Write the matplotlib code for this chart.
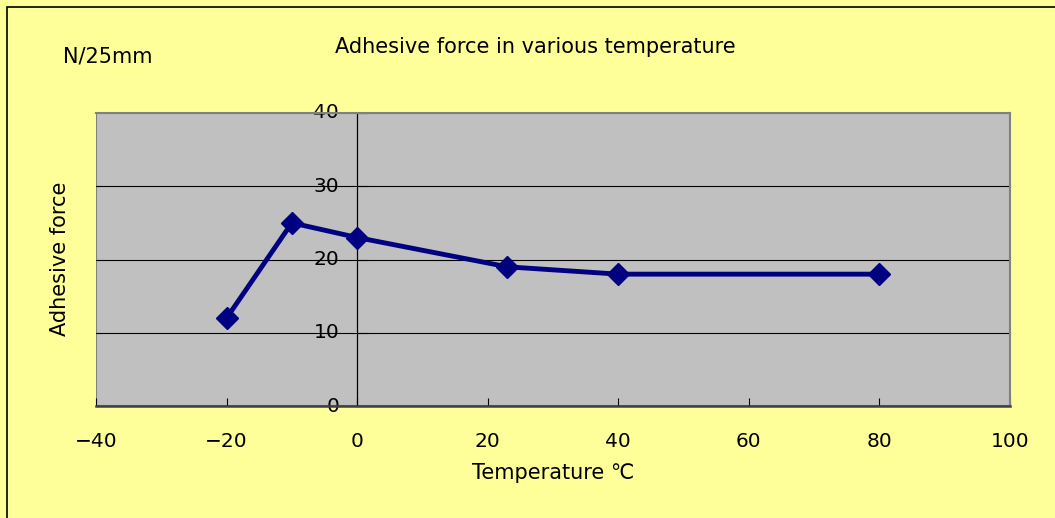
import matplotlib.pyplot as plt
from matplotlib.patches import Rectangle

plt.rcParams['font.family'] = ['DejaVu Sans', 'Noto Sans CJK JP']

temps = [-20, -10, 0, 23, 40, 80]
force = [12, 25, 23, 19, 18, 18]
x_ticks = [-40, -20, 0, 20, 40, 60, 80, 100]
y_ticks = [0, 10, 20, 30, 40]

fig = plt.figure(figsize=(10.55, 5.18), dpi=100, facecolor='#FFFF99')
ax = fig.add_axes([96/1055, 1 - 406/518, 914/1055, 293/518])
ax.set_facecolor('#C0C0C0')

# outer frame of the chart
fig.patches.append(Rectangle((7/1055, -0.05), 1.1, 1 - 7/518 + 0.05,
                             transform=fig.transFigure, fill=False,
                             edgecolor='black', linewidth=1.2))

for y in y_ticks[1:-1]:
    ax.axhline(y, color='black', linewidth=0.8, zorder=1)

ax.plot(temps, force, color='#000080', linewidth=3.5, marker='D',
        markersize=11, zorder=3)

ax.set_xlim(-40, 100)
ax.set_ylim(0, 40)
ax.set_xticks(x_ticks)
ax.set_yticks(y_ticks)
ax.set_xticklabels(['\u221240', '\u221220', '0', '20', '40', '60', '80', '100'])

ax.spines['left'].set_position(('data', 0))
ax.spines['left'].set_linewidth(0.9)
ax.spines['bottom'].set_color('#404040')
ax.spines['bottom'].set_linewidth(1.8)
ax.spines['top'].set_color('#808080')
ax.spines['top'].set_linewidth(1.5)
ax.spines['right'].set_color('#808080')
ax.spines['right'].set_linewidth(1.5)
ax.add_patch(Rectangle((0, 0), 1, 1, transform=ax.transAxes, fill=False,
                       edgecolor='#808080', linewidth=1.5, zorder=0.5))

ax.tick_params(axis='x', direction='in', length=6, pad=19, labelsize=14.5)
ax.tick_params(axis='y', direction='in', length=8, pad=13, labelsize=14.5)
for lbl in ax.get_yticklabels():
    lbl.set_verticalalignment('center')

fig.text(535/1055, 1 - 47/518, 'Adhesive force in various temperature',
         ha='center', va='center', fontsize=15)
fig.text(63/1055, 1 - 56/518, 'N/25mm', ha='left', va='center', fontsize=15)
fig.text(60/1055, 1 - 259/518, 'Adhesive force', rotation=90,
         ha='center', va='center', fontsize=15)
fig.text(553/1055, 1 - 473/518, 'Temperature \u2103', ha='center',
         va='center', fontsize=15)

fig.savefig('out.png', dpi=100, facecolor=fig.get_facecolor())
